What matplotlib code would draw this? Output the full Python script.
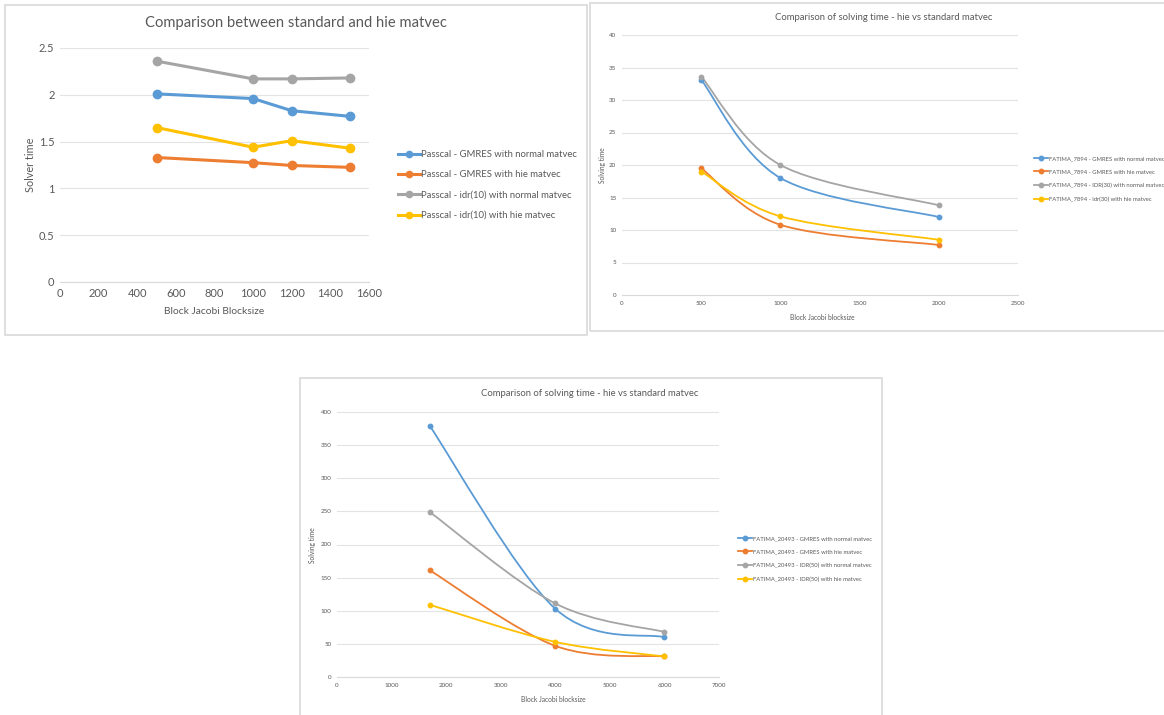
import matplotlib.pyplot as plt
from matplotlib.path import Path
from matplotlib.patches import PathPatch, Rectangle
from matplotlib.lines import Line2D
from matplotlib.ticker import FuncFormatter

plt.rcParams['font.family'] = ['Lato', 'DejaVu Sans']

COLORS = ['#5B9BD5', '#ED7D31', '#A5A5A5', '#FFC000']
TXT = '#595959'

# panel 1 - Passcal
p1_x = [500, 1000, 1200, 1500]
p1_gmres_normal = [2.01, 1.96, 1.83, 1.77]
p1_gmres_hie = [1.33, 1.275, 1.245, 1.225]
p1_idr_normal = [2.36, 2.17, 2.17, 2.18]
p1_idr_hie = [1.65, 1.44, 1.51, 1.43]
p1_labels = ['Passcal - GMRES with normal matvec',
             'Passcal - GMRES with hie matvec',
             'Passcal - idr(10) with normal matvec',
             'Passcal - idr(10) with hie matvec']

# panel 2 - FATIMA_7894
p2_x = [500, 1000, 2000]
p2_gmres_normal = [33.1, 18.0, 12.0]
p2_gmres_hie = [19.5, 10.8, 7.7]
p2_idr_normal = [33.6, 20.0, 13.8]
p2_idr_hie = [19.0, 12.1, 8.5]
p2_labels = ['FATIMA_7894 - GMRES with normal matvec',
             'FATIMA_7894 - GMRES with hie matvec',
             'FATIMA_7894 - IDR(30) with normal matvec',
             'FATIMA_7894 - idr(30) with hie matvec']

# panel 3 - FATIMA_20493
p3_x = [1700, 4000, 6000]
p3_gmres_normal = [379, 103, 60]
p3_gmres_hie = [161, 47, 31]
p3_idr_normal = [249, 111, 68]
p3_idr_hie = [109, 53, 31]
p3_labels = ['FATIMA_20493 - GMRES with normal matvec',
             'FATIMA_20493 - GMRES with hie matvec',
             'FATIMA_20493 - IDR(50) with normal matvec',
             'FATIMA_20493 - IDR(50) with hie matvec']

W, H = 1164, 715
fig = plt.figure(figsize=(W / 100, H / 100), dpi=100)


def fx(px):
    return px / W


def fy(py):
    return 1 - py / H


def box(x0, y0, x1, y1):
    fig.patches.append(Rectangle((fx(x0), fy(y1)), fx(x1 - x0), fy(y0) - fy(y1),
                                 transform=fig.transFigure, fill=False,
                                 edgecolor='#d9d9d9', lw=1.2))


def make_axes(x0, y0, x1, y1, xmax, xstep, ymax, ystep, fs):
    ax = fig.add_axes([fx(x0), fy(y1), fx(x1 - x0), fy(y0) - fy(y1)])
    ax.set_xlim(0, xmax)
    ax.set_ylim(0, ymax)
    ax.set_xticks(range(0, xmax + 1, xstep))
    yt = [i * ystep for i in range(int(round(ymax / ystep)) + 1)]
    ax.set_yticks(yt)
    ax.yaxis.set_major_formatter(FuncFormatter(lambda v, p: '{:g}'.format(v)))
    for s in ['top', 'right', 'left']:
        ax.spines[s].set_visible(False)
    ax.spines['bottom'].set_color('#d9d9d9')
    ax.tick_params(length=0, labelsize=fs, colors=TXT, pad=4)
    ax.grid(axis='y', color='#e3e3e3', lw=0.8)
    ax.set_axisbelow(True)
    return ax


def smooth(ax, xs, ys, color, lw):
    # Excel-like smoothed line: cubic bezier through the points
    pts = list(zip(xs, ys))
    verts = [pts[0]]
    codes = [Path.MOVETO]
    n = len(pts)
    for i in range(n - 1):
        p0 = pts[i - 1] if i > 0 else pts[i]
        p1 = pts[i]
        p2 = pts[i + 1]
        p3 = pts[i + 2] if i + 2 < n else pts[i + 1]
        c1 = (p1[0] + (p2[0] - p0[0]) / 6, p1[1] + (p2[1] - p0[1]) / 6)
        c2 = (p2[0] - (p3[0] - p1[0]) / 6, p2[1] - (p3[1] - p1[1]) / 6)
        verts += [c1, c2, p2]
        codes += [Path.CURVE4] * 3
    ax.add_patch(PathPatch(Path(verts, codes), fill=False, edgecolor=color,
                           lw=lw, capstyle='round', joinstyle='round'))


# ---- panel 1 ----
box(5, 5, 587, 335)
ax1 = make_axes(60, 48, 369, 282, 1600, 200, 2.5, 0.5, 8)
series1 = [p1_gmres_normal, p1_gmres_hie, p1_idr_normal, p1_idr_hie]
handles = []
for ys, c, lab in zip(series1, COLORS, p1_labels):
    h, = ax1.plot(p1_x, ys, color=c, lw=2.2, marker='o', ms=6, label=lab)
    handles.append(h)
fig.text(fx(296), fy(23), 'Comparison between standard and hie matvec',
         ha='center', va='center', fontsize=10.6, color=TXT)
fig.text(fx(214), fy(312), 'Block Jacobi Blocksize', ha='center', va='center',
         fontsize=7.4, color=TXT)
fig.text(fx(30), fy(165), 'Solver time', ha='center', va='center',
         rotation=90, fontsize=7.8, color=TXT)
fig.legend(handles=handles, loc='center left', bbox_to_anchor=(fx(394), fy(185)),
           frameon=False, fontsize=6.8, labelcolor=TXT, handlelength=2.3,
           labelspacing=1.2, handletextpad=0.2, borderaxespad=0, markerscale=0.75)


def smooth_panel(bx, axbox, title, title_xy, xlab_xy, ylab_xy, leg_xy,
                 xs, series, labels, xmax, xstep, ymax, ystep):
    box(*bx)
    ax = make_axes(*axbox, xmax, xstep, ymax, ystep, 4.5)
    hs = []
    for ys, c, lab in zip(series, COLORS, labels):
        smooth(ax, xs, ys, c, 1.3)
        ax.plot(xs, ys, 'o', color=c, ms=3.2)
        hs.append(Line2D([], [], color=c, lw=1.3, marker='o', ms=3.2, label=lab))
    fig.text(fx(title_xy[0]), fy(title_xy[1]), title, ha='center', va='center',
             fontsize=6.8, color=TXT)
    fig.text(fx(xlab_xy[0]), fy(xlab_xy[1]), 'Block Jacobi blocksize',
             ha='center', va='center', fontsize=4.8, color=TXT)
    fig.text(fx(ylab_xy[0]), fy(ylab_xy[1]), 'Solving time', ha='center',
             va='center', rotation=90, fontsize=4.8, color=TXT)
    fig.legend(handles=hs, loc='center left', bbox_to_anchor=(fx(leg_xy[0]), fy(leg_xy[1])),
               frameon=False, fontsize=4.2, labelcolor=TXT, handlelength=2.3,
               labelspacing=1.45, handletextpad=0.2, borderaxespad=0)
    return ax


smooth_panel((590, 3, 1175, 331), (622, 35, 1018, 295),
             'Comparison of solving time - hie vs standard matvec',
             (884, 18), (822, 318), (603, 165), (1032, 179),
             p2_x, [p2_gmres_normal, p2_gmres_hie, p2_idr_normal, p2_idr_hie],
             p2_labels, 2500, 500, 40, 5)

smooth_panel((300, 378, 882, 720), (337, 412, 719, 677),
             'Comparison of solving time - hie vs standard matvec',
             (590, 394), (553, 699), (313, 545), (736, 559),
             p3_x, [p3_gmres_normal, p3_gmres_hie, p3_idr_normal, p3_idr_hie],
             p3_labels, 7000, 1000, 400, 50)

fig.savefig('out.png', dpi=100, facecolor='white')
